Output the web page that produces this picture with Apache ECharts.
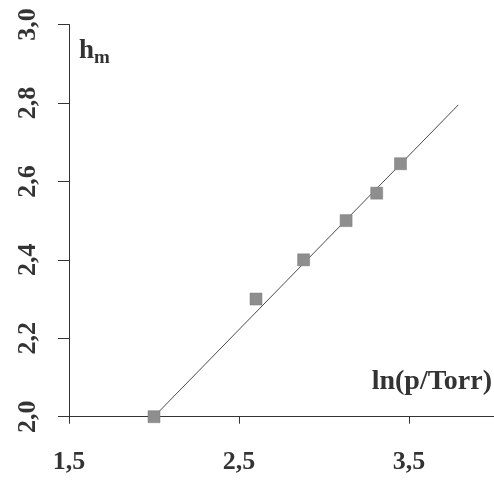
<!DOCTYPE html>
<html>
<head>
<meta charset="utf-8">
<script src="https://cdn.jsdelivr.net/npm/echarts@6/dist/echarts.min.js"></script>
<style>
  html, body { margin: 0; padding: 0; background: #fff; }
  #chart { width: 494px; height: 482px; }
</style>
</head>
<body>
<div id="chart"></div>
<script>
// Measured points: ln(p/Torr) against h_m
const lnP = [2.0, 2.6, 2.88, 3.13, 3.31, 3.45];
const hM = [2.0, 2.3, 2.4, 2.5, 2.57, 2.645];

// Fitted straight line, given by its two end points
const fitX = [2.0, 3.79];
const fitY = [2.0, 2.795];

// Tick values shown on each axis
const xTicks = [1.5, 2.5, 3.5];
const yTicks = [2.0, 2.2, 2.4, 2.6, 2.8, 3.0];

const FONT = '"Liberation Serif", "Times New Roman", serif';
const INK = '#333';

const chart = echarts.init(document.getElementById('chart'), null, { renderer: 'canvas' });

const comma = (v, d) => v.toFixed(d).replace('.', ',');

chart.setOption({
  animation: false,
  backgroundColor: '#fff',
  grid: { left: 69, right: 0, top: 24.5, bottom: 65.3, containLabel: false },
  xAxis: {
    type: 'value',
    min: 1.5,
    max: 4.0,
    axisLine: { show: true, onZero: false, lineStyle: { color: INK, width: 1 } },
    axisTick: { show: true, length: 7, inside: false, customValues: xTicks, lineStyle: { color: INK } },
    axisLabel: {
      customValues: xTicks,
      margin: 33,
      fontFamily: FONT, fontWeight: 'bold', fontSize: 26, color: INK,
      formatter: v => comma(v, 1)
    },
    splitLine: { show: false }
  },
  yAxis: {
    type: 'value',
    min: 2.0,
    max: 3.0,
    axisLine: { show: true, onZero: false, lineStyle: { color: INK, width: 1 } },
    axisTick: { show: true, length: 11, inside: false, customValues: yTicks, lineStyle: { color: INK } },
    axisLabel: {
      customValues: yTicks,
      rotate: 90,
      margin: 28,
      fontFamily: FONT, fontWeight: 'bold', fontSize: 26, color: INK,
      formatter: v => comma(v, 1)
    },
    splitLine: { show: false }
  },
  graphic: [
    {
      type: 'text',
      left: 79, top: 38,
      style: {
        text: '{h|h}{m|m}',
        rich: {
          h: { fontFamily: FONT, fontWeight: 'bold', fontSize: 27, fill: INK },
          m: { fontFamily: FONT, fontWeight: 'bold', fontSize: 19, fill: INK, padding: [14, 0, 0, 0] }
        }
      }
    },
    {
      type: 'text',
      right: 2, top: 368,
      style: {
        text: 'ln(p/Torr)',
        fontFamily: FONT, fontWeight: 'bold', fontSize: 28, fill: INK
      }
    }
  ],
  series: [
    {
      type: 'line',
      data: fitX.map((x, i) => [x, fitY[i]]),
      symbol: 'none',
      lineStyle: { color: '#4a4a4a', width: 1 },
      z: 2
    },
    {
      type: 'scatter',
      data: lnP.map((x, i) => [x, hM[i]]),
      symbol: 'rect',
      symbolSize: 12,
      clip: false,
      itemStyle: { color: '#8e8e8e', borderColor: '#7a7a7a', borderWidth: 0.5, opacity: 1 },
      z: 3
    }
  ]
});
</script>
</body>
</html>
